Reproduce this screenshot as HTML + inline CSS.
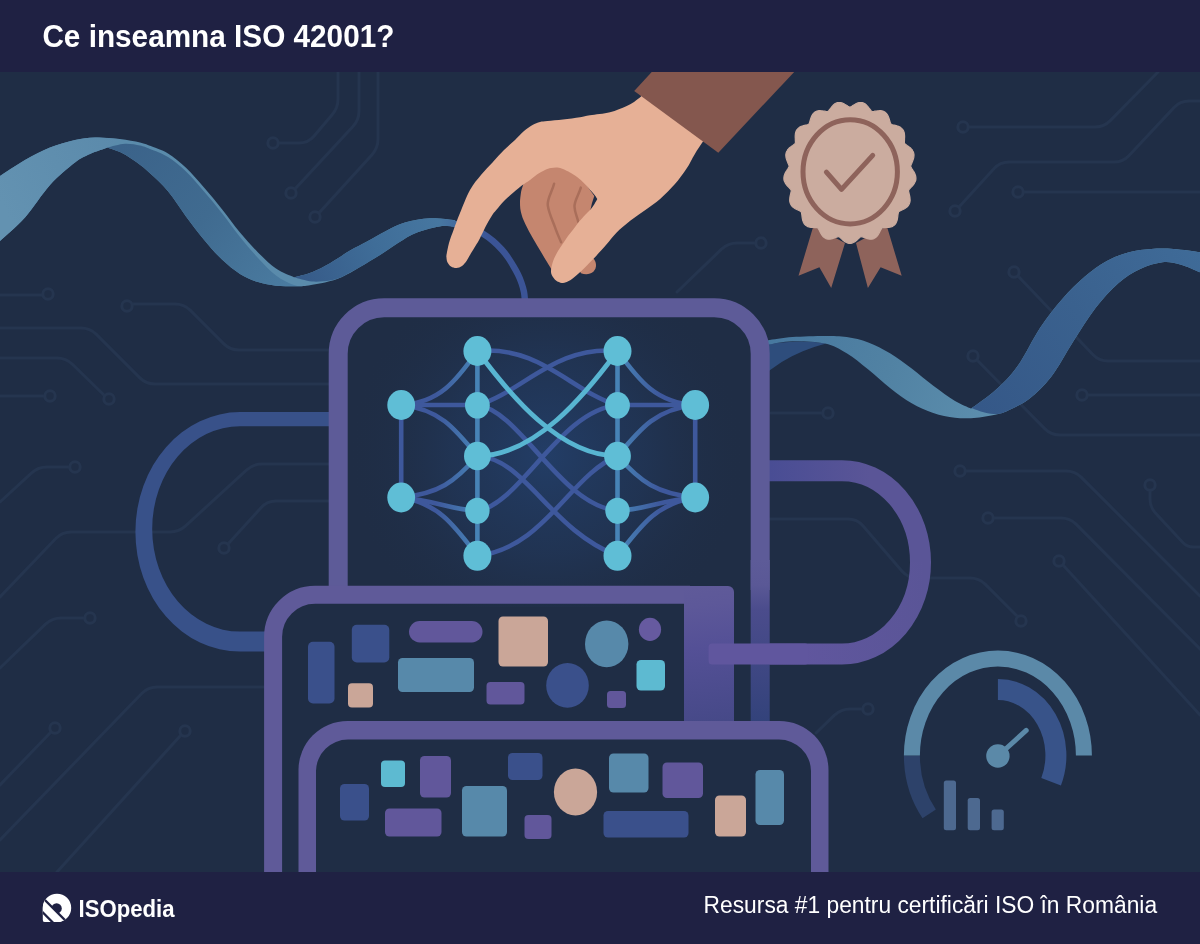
<!DOCTYPE html>
<html lang="ro">
<head>
<meta charset="utf-8">
<title>Ce inseamna ISO 42001?</title>
<style>
  html, body { margin: 0; padding: 0; background: #1f2d45; }
  body { width: 1200px; height: 944px; overflow: hidden; position: relative;
         font-family: "Liberation Sans", sans-serif; }
  svg { position: absolute; left: 0; top: 0; display: block; will-change: transform; }
  .t { font-family: "Liberation Sans", sans-serif; fill: #ffffff; }
</style>
</head>
<body>
<svg width="1200" height="944" viewBox="0 0 1200 944">
<rect x="0" y="0" width="1200" height="944" fill="#1f2d45"/>
<g fill="none" stroke="#25354f" stroke-width="3" stroke-linecap="round" stroke-linejoin="round">
  <path d="M338.0,72.0L338.0,99.0Q338.0,108.0 332.1,114.8L313.9,136.2Q308.0,143.0 299.0,143.0L278.0,143.0"/>
  <path d="M359.0,72.0L359.0,111.0Q359.0,120.0 352.9,126.6L295.0,189.0"/>
  <path d="M378.0,72.0L378.0,139.0Q378.0,148.0 372.0,154.7L319.0,213.0"/>
  <path d="M0.0,295.0L43.0,295.0"/>
  <path d="M133.0,304.0L175.0,304.0Q184.0,304.0 190.4,310.4L223.6,343.6Q230.0,350.0 239.0,350.0L330.0,350.0"/>
  <path d="M0.0,328.0L81.0,328.0Q90.0,328.0 96.4,334.4L139.6,377.6Q146.0,384.0 155.0,384.0L330.0,384.0"/>
  <path d="M0.0,358.0L57.0,358.0Q66.0,358.0 72.4,364.3L105.0,396.0"/>
  <path d="M0.0,396.0L44.0,396.0"/>
  <path d="M69.0,467.0L47.0,467.0Q38.0,467.0 31.4,473.1L0.0,502.0"/>
  <path d="M329.0,464.0L262.0,464.0Q253.0,464.0 246.4,470.1L185.6,525.9Q179.0,532.0 170.0,532.0L71.0,532.0Q62.0,532.0 55.8,538.5L0.0,597.0"/>
  <path d="M329.0,501.0L276.0,501.0Q267.0,501.0 261.0,507.7L228.0,544.0"/>
  <path d="M84.0,618.0L61.0,618.0Q52.0,618.0 45.5,624.2L0.0,668.0"/>
  <path d="M264.0,687.0L157.0,687.0Q148.0,687.0 141.7,693.5L0.0,840.0"/>
  <path d="M51.0,732.0L0.0,785.0"/>
  <path d="M181.0,735.0L57.0,872.0"/>
  <path d="M969.0,127.0L1095.0,127.0Q1104.0,127.0 1110.3,120.6L1158.0,72.0"/>
  <path d="M959.0,207.0L993.9,168.7Q1000.0,162.0 1009.0,162.0L1114.0,162.0Q1123.0,162.0 1129.1,155.4L1173.9,107.6Q1180.0,101.0 1189.0,101.0L1200.0,101.0"/>
  <path d="M1024.0,192.0L1200.0,192.0"/>
  <path d="M1018.0,276.0L1092.8,354.5Q1099.0,361.0 1108.0,361.0L1200.0,361.0"/>
  <path d="M977.0,360.0L1044.7,428.6Q1051.0,435.0 1060.0,435.0L1200.0,435.0"/>
  <path d="M1088.0,395.0L1200.0,395.0"/>
  <path d="M755.0,243.0L737.0,243.0Q728.0,243.0 721.5,249.2L677.0,292.0"/>
  <path d="M771.0,413.0L822.0,413.0"/>
  <path d="M966.0,471.0L1066.0,471.0Q1075.0,471.0 1081.4,477.4L1200.0,596.0"/>
  <path d="M994.0,518.0L1061.0,518.0Q1070.0,518.0 1076.3,524.4L1200.0,649.0"/>
  <path d="M1063.0,565.0L1200.0,715.0"/>
  <path d="M1150.0,491.0L1150.0,499.0Q1150.0,507.0 1155.4,512.9L1182.6,542.2Q1187.0,547.0 1193.5,547.0L1200.0,547.0"/>
  <path d="M770.0,519.0L848.0,519.0Q857.0,519.0 862.9,525.8L902.1,571.2Q908.0,578.0 917.0,578.0L970.0,578.0Q979.0,578.0 985.4,584.4L1017.0,616.0"/>
  <path d="M862.0,709.0L850.0,709.0Q841.0,709.0 834.5,715.2L816.0,733.0"/>
  <g fill="#1f2d45"><circle cx="273" cy="143" r="5.2"/><circle cx="291" cy="193" r="5.2"/><circle cx="315" cy="217" r="5.2"/><circle cx="48" cy="294" r="5.2"/><circle cx="127" cy="306" r="5.2"/><circle cx="109" cy="399" r="5.2"/><circle cx="50" cy="396" r="5.2"/><circle cx="75" cy="467" r="5.2"/><circle cx="224" cy="548" r="5.2"/><circle cx="90" cy="618" r="5.2"/><circle cx="55" cy="728" r="5.2"/><circle cx="185" cy="731" r="5.2"/><circle cx="963" cy="127" r="5.2"/><circle cx="955" cy="211" r="5.2"/><circle cx="1018" cy="192" r="5.2"/><circle cx="1014" cy="272" r="5.2"/><circle cx="973" cy="356" r="5.2"/><circle cx="1082" cy="395" r="5.2"/><circle cx="761" cy="243" r="5.2"/><circle cx="828" cy="413" r="5.2"/><circle cx="960" cy="471" r="5.2"/><circle cx="988" cy="518" r="5.2"/><circle cx="1059" cy="561" r="5.2"/><circle cx="1150" cy="485" r="5.2"/><circle cx="1021" cy="621" r="5.2"/><circle cx="868" cy="709" r="5.2"/></g>
</g>
<defs><linearGradient id="gA" x1="0" y1="200" x2="120" y2="140" gradientUnits="userSpaceOnUse"><stop offset="0" stop-color="#6392b1"/><stop offset="1" stop-color="#5b8aab"/></linearGradient><linearGradient id="gB" x1="120" y1="150" x2="290" y2="285" gradientUnits="userSpaceOnUse"><stop offset="0" stop-color="#3b638a"/><stop offset="0.5" stop-color="#406b90"/><stop offset="1" stop-color="#4a7ba0"/></linearGradient><linearGradient id="gC" x1="300" y1="283" x2="455" y2="222" gradientUnits="userSpaceOnUse"><stop offset="0" stop-color="#365a88"/><stop offset="0.5" stop-color="#3f6d98"/><stop offset="1" stop-color="#4879a2"/></linearGradient><linearGradient id="gD" x1="770" y1="340" x2="1000" y2="415" gradientUnits="userSpaceOnUse"><stop offset="0" stop-color="#47789f"/><stop offset="0.5" stop-color="#5182a3"/><stop offset="1" stop-color="#5d8fae"/></linearGradient><linearGradient id="gE" x1="980" y1="410" x2="1200" y2="250" gradientUnits="userSpaceOnUse"><stop offset="0" stop-color="#355888"/><stop offset="0.5" stop-color="#3a618e"/><stop offset="1" stop-color="#3f6b98"/></linearGradient></defs>
<path d="M0.0,176.0C4.2,173.3 16.7,164.8 25.0,160.0 C33.3,155.2 41.7,150.8 50.0,147.5 C58.3,144.2 67.5,141.7 75.0,140.0 C82.5,138.3 87.5,137.7 95.0,137.5 C102.5,137.3 112.5,138.2 120.0,139.0 C127.5,139.8 135.0,141.4 140.0,142.5 C145.0,143.6 148.3,145.2 150.0,145.8C153.0,147.1 162.0,149.7 168.0,153.4 C174.0,157.1 180.0,162.1 186.0,167.8 C192.0,173.5 198.0,180.7 204.0,187.6 C210.0,194.5 216.0,201.7 222.0,209.2 C228.0,216.7 234.0,225.4 240.0,232.6 C246.0,239.8 252.0,246.4 258.0,252.4 C264.0,258.4 270.0,264.5 276.0,268.6 C282.0,272.8 291.0,275.9 294.0,277.3C297.0,276.4 306.0,274.6 312.0,272.2 C318.0,269.8 323.7,266.8 330.0,263.2 C336.3,259.6 343.8,254.2 350.0,250.6 C356.2,247.0 361.0,244.8 367.0,241.5 C373.0,238.2 379.7,234.2 386.0,231.0 C392.3,227.8 397.7,224.6 405.0,222.5 C412.3,220.4 421.7,218.6 430.0,218.2 C438.3,217.8 450.8,219.7 455.0,220.0L455.0,226.5C452.8,226.4 448.3,225.0 442.0,226.0 C435.7,227.0 424.3,229.7 417.0,232.5 C409.7,235.3 404.2,239.2 398.0,243.0 C391.8,246.8 386.3,251.0 380.0,255.0 C373.7,259.0 366.3,263.3 360.0,267.0 C353.7,270.7 347.8,274.4 342.0,277.0 C336.2,279.6 331.2,281.0 325.0,282.5 C318.8,284.0 308.3,285.4 305.0,286.0C303.2,286.1 298.8,286.4 294.0,286.3 C289.2,286.2 282.0,286.4 276.0,285.7 C270.0,285.0 264.0,284.1 258.0,282.1 C252.0,280.2 246.0,277.8 240.0,274.0 C234.0,270.2 228.0,265.3 222.0,259.6 C216.0,253.9 210.0,247.0 204.0,239.8 C198.0,232.6 192.0,224.5 186.0,216.4 C180.0,208.3 174.0,198.4 168.0,191.2 C162.0,184.0 155.2,178.0 150.0,173.2 C144.8,168.4 141.7,165.9 137.0,162.5 C132.3,159.1 126.9,155.5 122.0,153.0 C117.1,150.5 109.9,148.4 107.5,147.5C104.6,148.6 95.4,151.5 90.0,154.0 C84.6,156.5 81.7,157.3 75.0,162.5 C68.3,167.7 58.3,175.8 50.0,185.0 C41.7,194.2 33.3,208.2 25.0,217.5 C16.7,226.8 4.2,237.1 0.0,241.0Z" fill="#5a8bab"/>
<path d="M0.0,176.0C4.2,173.3 16.7,164.8 25.0,160.0 C33.3,155.2 41.7,150.8 50.0,147.5 C58.3,144.2 67.5,141.7 75.0,140.0 C82.5,138.3 87.5,137.7 95.0,137.5 C102.5,137.3 115.8,138.8 120.0,139.0L107.5,147.5C104.6,148.6 95.4,151.5 90.0,154.0 C84.6,156.5 81.7,157.3 75.0,162.5 C68.3,167.7 58.3,175.8 50.0,185.0 C41.7,194.2 33.3,208.2 25.0,217.5 C16.7,226.8 4.2,237.1 0.0,241.0Z" fill="url(#gA)"/>
<path d="M107.5,147.5C110.4,146.9 119.6,144.1 125.0,143.8 C130.4,143.5 135.8,144.6 140.0,145.5 C144.2,146.4 145.3,147.1 150.0,149.0 C154.7,150.9 162.0,153.2 168.0,157.0 C174.0,160.8 180.0,165.8 186.0,171.5 C192.0,177.2 198.0,184.6 204.0,191.5 C210.0,198.4 216.0,205.6 222.0,213.2 C228.0,220.8 234.0,229.5 240.0,237.0 C246.0,244.5 252.0,251.6 258.0,258.0 C264.0,264.4 270.0,271.0 276.0,275.5 C282.0,280.0 289.2,283.2 294.0,285.0 C298.8,286.8 303.2,285.8 305.0,286.0C303.2,286.1 298.8,286.4 294.0,286.3 C289.2,286.2 282.0,286.4 276.0,285.7 C270.0,285.0 264.0,284.1 258.0,282.1 C252.0,280.2 246.0,277.8 240.0,274.0 C234.0,270.2 228.0,265.3 222.0,259.6 C216.0,253.9 210.0,247.0 204.0,239.8 C198.0,232.6 192.0,224.5 186.0,216.4 C180.0,208.3 174.0,198.4 168.0,191.2 C162.0,184.0 155.2,178.0 150.0,173.2 C144.8,168.4 141.7,165.9 137.0,162.5 C132.3,159.1 126.9,155.5 122.0,153.0 C117.1,150.5 109.9,148.4 107.5,147.5Z" fill="url(#gB)"/>
<path d="M294.0,277.3C297.0,276.4 306.0,274.6 312.0,272.2 C318.0,269.8 323.7,266.8 330.0,263.2 C336.3,259.6 343.8,254.2 350.0,250.6 C356.2,247.0 361.0,244.8 367.0,241.5 C373.0,238.2 379.7,234.2 386.0,231.0 C392.3,227.8 397.7,224.6 405.0,222.5 C412.3,220.4 421.7,218.6 430.0,218.2 C438.3,217.8 450.8,219.7 455.0,220.0L455.0,226.5C452.8,226.4 448.3,225.0 442.0,226.0 C435.7,227.0 424.3,229.7 417.0,232.5 C409.7,235.3 404.2,239.2 398.0,243.0 C391.8,246.8 386.3,251.0 380.0,255.0 C373.7,259.0 366.3,263.3 360.0,267.0 C353.7,270.7 345.0,275.3 342.0,277.0C340.0,277.6 335.0,279.8 330.0,280.5 C325.0,281.2 318.0,282.0 312.0,281.5 C306.0,281.0 297.0,278.0 294.0,277.3Z" fill="url(#gC)"/>
<path d="M768,344 C790,341 810,340.5 826,343.6 C810,348 795,354 781.7,362 L768,371.5 Z" fill="#2e4d7c"/>
<path d="M768.0,340.3C772.1,339.8 783.0,337.8 792.5,337.1 C802.0,336.4 816.0,336.0 825.0,336.0 C834.0,336.0 839.5,336.0 846.7,337.1 C853.9,338.2 861.1,339.8 868.3,342.5 C875.5,345.2 882.8,349.0 890.0,353.3 C897.2,357.6 904.5,363.1 911.7,368.5 C918.9,373.9 926.1,380.4 933.3,385.8 C940.5,391.2 948.7,397.2 955.0,401.0 C961.3,404.8 968.3,407.3 971.0,408.6C975.1,405.5 987.8,397.1 995.6,390.0 C1003.4,382.9 1010.4,376.1 1017.8,365.7 C1025.2,355.3 1032.6,339.0 1040.0,327.9 C1047.4,316.8 1054.9,307.5 1062.3,299.0 C1069.7,290.5 1077.2,283.0 1084.6,276.7 C1092.0,270.4 1099.4,265.1 1106.8,261.0 C1114.2,256.9 1121.6,254.2 1129.0,252.2 C1136.4,250.2 1143.9,249.4 1151.3,248.9 C1158.7,248.4 1165.4,248.4 1173.5,248.9 C1181.6,249.4 1195.6,251.6 1200.0,252.2L1200.0,272.3C1196.7,271.0 1186.5,266.2 1180.2,264.5 C1173.9,262.8 1169.1,261.6 1162.4,262.3 C1155.7,263.1 1147.6,265.5 1140.2,269.0 C1132.8,272.5 1125.4,276.9 1118.0,283.4 C1110.6,289.9 1103.1,298.2 1095.7,307.8 C1088.3,317.4 1080.8,329.7 1073.4,341.2 C1066.0,352.7 1058.6,367.2 1051.2,376.8 C1043.8,386.4 1036.4,393.2 1029.0,399.0 C1021.6,404.8 1010.4,409.2 1006.7,411.3C1005.3,411.8 1003.3,412.9 998.3,414.0 C993.3,415.1 983.9,417.1 976.7,417.7 C969.5,418.3 962.2,418.5 955.0,417.7 C947.8,416.9 940.5,415.3 933.3,412.9 C926.1,410.5 918.9,407.3 911.7,403.2 C904.5,399.1 897.2,393.6 890.0,388.0 C882.8,382.4 875.5,375.4 868.3,369.6 C861.1,363.8 853.9,357.6 846.7,353.3 C839.5,349.0 834.0,345.6 825.0,343.6 C816.0,341.6 802.0,341.1 792.5,341.3 C783.0,341.5 772.1,344.1 768.0,344.7Z" fill="url(#gD)"/>
<path d="M971.0,408.6C975.1,405.5 987.8,397.1 995.6,390.0 C1003.4,382.9 1010.4,376.1 1017.8,365.7 C1025.2,355.3 1032.6,339.0 1040.0,327.9 C1047.4,316.8 1054.9,307.5 1062.3,299.0 C1069.7,290.5 1077.2,283.0 1084.6,276.7 C1092.0,270.4 1099.4,265.1 1106.8,261.0 C1114.2,256.9 1121.6,254.2 1129.0,252.2 C1136.4,250.2 1143.9,249.4 1151.3,248.9 C1158.7,248.4 1165.4,248.4 1173.5,248.9 C1181.6,249.4 1195.6,251.6 1200.0,252.2L1200.0,272.3C1196.7,271.0 1186.5,266.2 1180.2,264.5 C1173.9,262.8 1169.1,261.6 1162.4,262.3 C1155.7,263.1 1147.6,265.5 1140.2,269.0 C1132.8,272.5 1125.4,276.9 1118.0,283.4 C1110.6,289.9 1103.1,298.2 1095.7,307.8 C1088.3,317.4 1080.8,329.7 1073.4,341.2 C1066.0,352.7 1058.6,367.2 1051.2,376.8 C1043.8,386.4 1036.4,393.2 1029.0,399.0 C1021.6,404.8 1010.4,409.2 1006.7,411.3C1005.2,411.8 1001.5,413.8 997.8,414.0 C994.1,414.2 989.0,413.4 984.5,412.4 C980.0,411.4 973.2,408.7 971.0,408.0Z" fill="url(#gE)"/>
<defs><radialGradient id="glow" cx="547" cy="455" r="200" gradientUnits="userSpaceOnUse"><stop offset="0" stop-color="#233f6a" stop-opacity="0.9"/><stop offset="0.5" stop-color="#223a60" stop-opacity="0.5"/><stop offset="1" stop-color="#1f2d45" stop-opacity="0"/></radialGradient><linearGradient id="gLoopR" x1="770" y1="0" x2="870" y2="0" gradientUnits="userSpaceOnUse"><stop offset="0" stop-color="#494d94"/><stop offset="1" stop-color="#5a5597"/></linearGradient><linearGradient id="gVert" x1="0" y1="560" x2="0" y2="725" gradientUnits="userSpaceOnUse"><stop offset="0" stop-color="#5d5b98"/><stop offset="0.15" stop-color="#5a5896"/><stop offset="0.3" stop-color="#4b4c8c"/><stop offset="1" stop-color="#32427a"/></linearGradient><linearGradient id="gBand" x1="700" y1="586" x2="716" y2="722" gradientUnits="userSpaceOnUse"><stop offset="0" stop-color="#5f5a99"/><stop offset="0.14" stop-color="#5d5899"/><stop offset="0.45" stop-color="#545096"/><stop offset="1" stop-color="#464988"/></linearGradient><linearGradient id="gLoopB" x1="925" y1="0" x2="800" y2="0" gradientUnits="userSpaceOnUse"><stop offset="0" stop-color="#5a5597"/><stop offset="1" stop-color="#60569e"/></linearGradient></defs>
<path d="M330,412.1 H240 A104.6,119.75 0 0 0 240,651.6 H268 V631.6 H240 A87.8,102.7 0 0 1 240,426.2 H330 Z" fill="#385189"/>
<defs><linearGradient id="gWire" x1="436" y1="0" x2="490" y2="0" gradientUnits="userSpaceOnUse"><stop offset="0" stop-color="#4879a2"/><stop offset="1" stop-color="#3b5496"/></linearGradient></defs>
<path d="M440.0,222.0C442.5,222.3 450.0,223.1 455.0,224.0 C460.0,224.9 465.3,225.9 470.0,227.5 C474.7,229.1 479.2,231.6 483.0,233.8 C486.8,236.1 489.9,238.4 493.0,241.0 C496.1,243.6 499.2,246.8 501.7,249.5 C504.2,252.2 506.1,254.8 508.0,257.5 C509.9,260.2 511.6,263.2 513.3,266.0 C515.0,268.8 516.6,271.7 518.0,274.5 C519.4,277.3 520.5,280.1 521.5,283.0 C522.5,285.9 523.4,289.0 524.0,292.0 C524.6,295.0 524.8,299.5 525.0,301.0" fill="none" stroke="url(#gWire)" stroke-width="6.4"/>
<path d="M765,470.7 H842 A78.5,91.65 0 0 1 920.5,562.35" fill="none" stroke="url(#gLoopR)" stroke-width="21"/>
<path d="M920.5,561.5 A78.5,91.65 0 0 1 842,654 H760" fill="none" stroke="url(#gLoopB)" stroke-width="21"/>
<rect x="347" y="317" width="404" height="290" fill="url(#glow)"/>
<path d="M338.2,590 V353.8 A46,46 0 0 1 384.2,307.8 H714.2 A46,46 0 0 1 760.2,353.8 V590" fill="none" stroke="#5d5b98" stroke-width="19"/>
<rect x="750.7" y="560" width="19" height="166" fill="url(#gVert)"/>
<path d="M273.1,872 V636.8 A42,42 0 0 1 315.1,594.8 H690" fill="none" stroke="#5f5a99" stroke-width="18"/>
<path d="M684,586 H728 A6,6 0 0 1 734,592 V722 H684 Z" fill="url(#gBand)"/>
<rect x="708.6" y="643.5" width="100" height="21" rx="3.5" fill="#60569e"/>
<path d="M298.5,872 V770 A49,49 0 0 1 347.5,721 H779.5 A49,49 0 0 1 828.5,770 V872 Z" fill="#5f5a99"/>
<path d="M316,872 V771 A32,32 0 0 1 348,739.5 H779 A32,32 0 0 1 811,771 V872 Z" fill="#1f2d45"/>
<rect x="308.0" y="641.8" width="26.5" height="61.7" rx="5.0" fill="#3a508b"/>
<rect x="351.8" y="624.8" width="37.5" height="37.7" rx="5.0" fill="#3a508b"/>
<rect x="409.0" y="621.0" width="73.5" height="21.5" rx="10.7" fill="#61579b"/>
<rect x="498.5" y="616.5" width="49.5" height="50.0" rx="4.5" fill="#caa698"/>
<ellipse cx="606.7" cy="643.9" rx="21.7" ry="23.4" fill="#5789aa"/>
<ellipse cx="650.0" cy="629.4" rx="11.1" ry="11.6" fill="#665aa0"/>
<rect x="398.0" y="658.0" width="76.0" height="34.0" rx="4.5" fill="#5789aa"/>
<rect x="348.0" y="683.2" width="25.0" height="24.4" rx="4.0" fill="#caa698"/>
<rect x="486.5" y="682.0" width="38.0" height="22.5" rx="4.0" fill="#61579b"/>
<ellipse cx="567.5" cy="685.4" rx="21.3" ry="22.4" fill="#3a508b"/>
<rect x="607.0" y="691.0" width="19.0" height="17.0" rx="3.5" fill="#61579b"/>
<rect x="636.5" y="660.0" width="28.5" height="30.5" rx="4.5" fill="#5dbad1"/>
<rect x="381.0" y="760.5" width="24.0" height="26.5" rx="4.0" fill="#5dbad1"/>
<rect x="420.0" y="756.0" width="31.0" height="41.5" rx="4.5" fill="#61579b"/>
<rect x="340.0" y="784.0" width="29.0" height="36.5" rx="4.5" fill="#3a508b"/>
<rect x="385.0" y="808.5" width="56.5" height="28.0" rx="4.5" fill="#61579b"/>
<rect x="462.0" y="786.0" width="45.0" height="50.5" rx="4.5" fill="#5789aa"/>
<rect x="508.0" y="753.0" width="34.5" height="27.0" rx="4.5" fill="#3a508b"/>
<rect x="524.5" y="815.0" width="27.0" height="24.0" rx="4.0" fill="#61579b"/>
<ellipse cx="575.5" cy="792.0" rx="21.6" ry="23.5" fill="#caa698"/>
<rect x="609.0" y="753.5" width="39.5" height="39.0" rx="4.5" fill="#5789aa"/>
<rect x="662.5" y="762.5" width="40.5" height="35.5" rx="4.5" fill="#61579b"/>
<rect x="603.5" y="811.0" width="85.0" height="26.5" rx="4.5" fill="#3a508b"/>
<rect x="715.0" y="795.5" width="31.0" height="41.0" rx="4.5" fill="#caa698"/>
<rect x="755.5" y="770.0" width="28.5" height="55.0" rx="4.5" fill="#5789aa"/>
<defs><linearGradient id="gFanL" x1="401.2" y1="0" x2="477.4" y2="0" gradientUnits="userSpaceOnUse"><stop offset="0" stop-color="#3e589c"/><stop offset="0.45" stop-color="#3e589c"/><stop offset="1" stop-color="#4783b6"/></linearGradient><linearGradient id="gFanR" x1="695.2" y1="0" x2="617.5" y2="0" gradientUnits="userSpaceOnUse"><stop offset="0" stop-color="#3e589c"/><stop offset="0.45" stop-color="#3e589c"/><stop offset="1" stop-color="#4783b6"/></linearGradient></defs>
<path d="M401.2,405.0 V497.5" fill="none" stroke="#3e589c" stroke-width="4.6" stroke-linecap="round"/>
<path d="M695.2,405.0 V497.5" fill="none" stroke="#3e589c" stroke-width="4.6" stroke-linecap="round"/>
<path d="M401.2,405.0 C439.3,403.0 456.1,381.0 477.4,351.0" fill="none" stroke="url(#gFanL)" stroke-width="4.6" stroke-linecap="round"/>
<path d="M401.2,405.0 H477.4" fill="none" stroke="#3e589c" stroke-width="4.6" stroke-linecap="round"/>
<path d="M401.2,405.0 C439.3,409.0 454.5,428.0 477.4,456.0" fill="none" stroke="url(#gFanL)" stroke-width="4.6" stroke-linecap="round"/>
<path d="M401.2,497.5 C439.3,493.5 454.5,482.0 477.4,456.0" fill="none" stroke="url(#gFanL)" stroke-width="4.6" stroke-linecap="round"/>
<path d="M401.2,497.5 C435.5,500.5 446.9,508.8 477.4,510.8" fill="none" stroke="url(#gFanL)" stroke-width="4.6" stroke-linecap="round"/>
<path d="M401.2,497.5 C439.3,503.5 454.5,525.8 477.4,555.8" fill="none" stroke="url(#gFanL)" stroke-width="4.6" stroke-linecap="round"/>
<path d="M695.2,405.0 C656.4,403.0 639.3,381.0 617.5,351.0" fill="none" stroke="url(#gFanR)" stroke-width="4.6" stroke-linecap="round"/>
<path d="M695.2,405.0 H617.5" fill="none" stroke="#3e589c" stroke-width="4.6" stroke-linecap="round"/>
<path d="M695.2,405.0 C656.4,409.0 640.8,428.0 617.5,456.0" fill="none" stroke="url(#gFanR)" stroke-width="4.6" stroke-linecap="round"/>
<path d="M695.2,497.5 C656.4,493.5 640.8,482.0 617.5,456.0" fill="none" stroke="url(#gFanR)" stroke-width="4.6" stroke-linecap="round"/>
<path d="M695.2,497.5 C660.2,500.5 648.6,508.8 617.5,510.8" fill="none" stroke="url(#gFanR)" stroke-width="4.6" stroke-linecap="round"/>
<path d="M695.2,497.5 C656.4,503.5 640.8,525.8 617.5,555.8" fill="none" stroke="url(#gFanR)" stroke-width="4.6" stroke-linecap="round"/>
<path d="M477.4,351.0 C540,345 572,392 617.5,405.3" fill="none" stroke="#3e589c" stroke-width="4.6" stroke-linecap="round"/>
<path d="M617.5,351.0 C555,345 523,392 477.4,405.3" fill="none" stroke="#3e589c" stroke-width="4.6" stroke-linecap="round"/>
<path d="M477.4,405.3 C520,410 560,505 617.5,510.8" fill="none" stroke="#3e589c" stroke-width="4.6" stroke-linecap="round"/>
<path d="M477.4,510.8 C520,505 560,410 617.5,405.3" fill="none" stroke="#3e589c" stroke-width="4.6" stroke-linecap="round"/>
<path d="M477.4,456.0 C525,458 550,530 617.5,555.8" fill="none" stroke="#3e589c" stroke-width="4.6" stroke-linecap="round"/>
<path d="M477.4,555.8 C545,548 570,475 617.5,456.0" fill="none" stroke="#3e589c" stroke-width="4.6" stroke-linecap="round"/>
<path d="M477.4,351.0 V555.8" fill="none" stroke="#4783b6" stroke-width="4.6" stroke-linecap="round"/>
<path d="M617.5,351.0 V555.8" fill="none" stroke="#4783b6" stroke-width="4.6" stroke-linecap="round"/>
<path d="M477.4,351.0 C510,395 560,456 617.5,456.0" fill="none" stroke="#58b5d1" stroke-width="4.8" stroke-linecap="round"/>
<path d="M477.4,456.0 C535,456 585,395 617.5,351.0" fill="none" stroke="#58b5d1" stroke-width="4.8" stroke-linecap="round"/>
<ellipse cx="401.2" cy="405.0" rx="13.9" ry="14.9" fill="#5fbed6"/>
<ellipse cx="401.2" cy="497.5" rx="13.9" ry="14.9" fill="#5fbed6"/>
<ellipse cx="695.2" cy="405.0" rx="13.9" ry="14.9" fill="#5fbed6"/>
<ellipse cx="695.2" cy="497.5" rx="13.9" ry="14.9" fill="#5fbed6"/>
<ellipse cx="477.4" cy="351.0" rx="14.0" ry="15.0" fill="#5fbed6"/>
<ellipse cx="477.4" cy="405.3" rx="12.4" ry="13.3" fill="#5fbed6"/>
<ellipse cx="477.4" cy="456.0" rx="13.4" ry="14.3" fill="#5fbed6"/>
<ellipse cx="477.4" cy="510.8" rx="12.2" ry="13.1" fill="#5fbed6"/>
<ellipse cx="477.4" cy="555.8" rx="14.0" ry="15.0" fill="#5fbed6"/>
<ellipse cx="617.5" cy="351.0" rx="14.0" ry="15.0" fill="#5fbed6"/>
<ellipse cx="617.5" cy="405.3" rx="12.4" ry="13.3" fill="#5fbed6"/>
<ellipse cx="617.5" cy="456.0" rx="13.4" ry="14.3" fill="#5fbed6"/>
<ellipse cx="617.5" cy="510.8" rx="12.2" ry="13.1" fill="#5fbed6"/>
<ellipse cx="617.5" cy="555.8" rx="14.0" ry="15.0" fill="#5fbed6"/>
<path d="M523.4,183.9C523.1,184.9 522.0,188.1 521.5,190.0 C521.0,191.9 520.9,193.3 520.6,195.3 C520.4,197.3 520.0,199.8 520.0,202.0 C520.0,204.2 520.0,206.4 520.3,208.7 C520.6,211.0 521.2,213.4 522.0,216.0 C522.8,218.6 523.9,221.0 525.3,224.0 C526.7,227.0 528.6,230.5 530.5,234.0 C532.4,237.5 534.8,241.6 536.8,245.0 C538.8,248.4 540.6,251.3 542.5,254.5 C544.4,257.7 546.6,261.4 548.2,264.0 C549.8,266.6 550.7,268.3 552.0,270.0 C553.3,271.7 555.3,273.3 556.0,274.0L585,262 L590.5,209.5 L592,203 L594.3,196 L585,183 L570,168 L557,164 L545,166 L531,176 Z" fill="#c5866f"/>
<path d="M578,268 L592.5,257.5 C597,261.5 597,268 593.5,271.5 C590,274.8 585,274.8 581,273.2 Z" fill="#c5866f"/>
<path d="M554.1,183.8 C552,192 547,198.5 547.8,205.4 C548.8,213.5 553,221 555.4,228.3 C557.2,233.5 559.3,238 561.1,242.3" fill="none" stroke="#a96e5a" stroke-width="2.5" stroke-linecap="round"/>
<path d="M580.8,187.6 C579,194.5 574.3,200.5 574.5,206.7 C574.7,212.5 577.3,217 578.3,222" fill="none" stroke="#a96e5a" stroke-width="2.5" stroke-linecap="round"/>
<path d="M446.3,256.0C446.8,253.8 447.8,247.5 449.0,243.0 C450.2,238.5 452.0,234.2 453.8,229.2 C455.6,224.2 457.3,219.5 460.0,213.0 C462.7,206.5 466.5,196.3 470.0,190.0 C473.5,183.7 477.2,179.6 481.0,175.0 C484.8,170.4 488.7,166.7 492.5,162.5 C496.3,158.3 500.2,153.8 504.0,150.0 C507.8,146.2 511.7,143.2 515.0,140.0 C518.3,136.8 521.1,133.5 524.0,131.0 C526.9,128.5 529.8,126.5 532.5,125.0 C535.2,123.5 537.5,122.7 540.0,122.0 C542.5,121.3 543.7,121.4 547.5,121.0 C551.3,120.6 557.6,120.1 563.0,119.5 C568.4,118.9 575.5,117.9 580.0,117.2 C584.5,116.5 585.0,116.0 590.0,115.2 C595.0,114.4 604.0,113.7 610.0,112.2 C616.0,110.7 622.2,107.9 626.2,106.2 C630.2,104.5 631.6,103.6 634.0,102.0 C636.4,100.4 639.7,97.7 640.8,96.8L648.0,86.0L712.0,133.0L702.8,141.8C701.4,143.9 697.3,150.0 694.6,154.4 C691.9,158.8 690.0,163.5 686.6,168.5 C683.2,173.5 678.9,179.6 674.5,184.6 C670.1,189.6 665.4,194.3 660.4,198.7 C655.4,203.1 649.3,207.1 644.3,210.8 C639.3,214.5 634.9,217.1 630.2,220.8 C625.5,224.5 620.2,228.9 616.2,232.9 C612.2,236.9 610.0,240.5 606.2,244.8 C602.4,249.1 597.7,254.4 593.5,258.8 C589.3,263.2 584.4,268.1 580.8,271.5 C577.2,274.9 574.5,277.2 572.0,279.0 C569.5,280.8 567.7,281.6 566.0,282.3 C564.3,283.0 563.5,283.3 561.8,283.0 C560.1,282.7 557.6,281.8 556.0,280.5 C554.4,279.2 552.8,277.1 552.0,275.5 C551.2,273.9 551.0,272.8 551.0,271.0 C551.0,269.2 551.5,267.0 552.0,265.0 C552.5,263.0 553.0,261.1 554.0,258.8 C555.0,256.5 556.5,253.6 558.0,251.0 C559.5,248.4 561.3,246.0 563.0,243.5 C564.7,241.0 566.3,238.3 568.0,236.0 C569.7,233.7 571.5,231.8 573.2,229.6 C574.9,227.4 576.3,225.1 578.0,223.0 C579.7,220.9 581.9,218.5 583.4,216.8 C584.9,215.1 585.7,214.3 587.0,213.0 C588.3,211.7 589.8,210.5 591.0,209.0 C592.2,207.5 593.5,205.7 594.5,204.0 C595.5,202.3 596.8,199.8 597.3,199.0C596.9,198.4 596.3,197.1 594.8,195.2 C593.2,193.3 590.3,190.0 588.0,187.5 C585.7,185.0 583.0,182.0 580.8,180.0 C578.6,178.0 576.8,176.8 575.0,175.5 C573.2,174.2 572.0,173.6 570.0,172.5 C568.0,171.4 565.1,169.8 563.0,169.0 C560.9,168.2 559.5,167.7 557.5,167.5 C555.5,167.3 553.1,167.6 551.0,168.0 C548.9,168.4 547.3,168.9 545.0,170.0 C542.7,171.1 539.5,172.8 537.0,174.5 C534.5,176.2 532.4,178.2 530.0,180.0 C527.6,181.8 523.8,184.2 522.5,185.0C521.1,186.2 516.9,189.5 514.0,192.0 C511.1,194.5 507.7,197.3 505.0,200.0 C502.3,202.7 500.1,205.5 498.0,208.0 C495.9,210.5 494.1,212.3 492.3,215.0 C490.5,217.7 488.6,221.2 487.0,224.0 C485.4,226.8 484.4,229.2 483.0,232.0 C481.6,234.8 479.9,238.5 478.5,241.0 C477.1,243.5 476.2,244.7 474.8,247.0 C473.4,249.3 471.4,252.7 470.0,255.0 C468.6,257.3 468.0,258.9 466.7,260.7 C465.4,262.5 463.7,264.8 462.0,266.0 C460.3,267.2 458.3,267.9 456.5,268.0 C454.7,268.1 452.5,267.5 451.0,266.5 C449.5,265.5 448.1,263.8 447.3,262.0 C446.5,260.2 446.5,257.0 446.3,256.0Z" fill="#e6b096"/>
<path d="M651.7,72 L634.2,91 L718.3,152.7 L794.2,72 Z" fill="#84574e"/>
<path d="M813.4,226 L798.5,275.8 L819.4,267.3 L831.2,288 L845,243 Z" fill="#8e635b"/>
<path d="M886.8,226 L901.7,275.8 L880.6,267.3 L867.9,288 L856,243 Z" fill="#8e635b"/>
<path d="M849.9,107.1L850.8,106.7 L851.8,106.2 L852.8,105.6 L853.8,105.0 L854.8,104.4 L855.8,103.8 L856.9,103.3 L857.9,102.9 L859.0,102.7 L860.0,102.5 L861.1,102.5 L862.1,102.6 L863.1,102.9 L864.0,103.3 L865.0,103.8 L865.8,104.5 L866.7,105.3 L867.5,106.2 L868.3,107.1 L869.0,108.0 L869.7,109.0 L870.5,109.9 L871.2,110.8 L871.9,111.5 L872.9,111.5 L874.0,111.4 L875.1,111.2 L876.3,111.0 L877.4,110.9 L878.6,110.8 L879.7,110.7 L880.8,110.7 L881.9,110.9 L882.9,111.1 L883.9,111.5 L884.8,112.0 L885.6,112.7 L886.4,113.4 L887.1,114.3 L887.7,115.3 L888.2,116.3 L888.7,117.4 L889.1,118.6 L889.4,119.8 L889.8,121.0 L890.1,122.1 L890.5,123.2 L891.0,124.1 L891.9,124.6 L893.0,124.9 L894.1,125.1 L895.2,125.4 L896.3,125.7 L897.4,126.0 L898.5,126.4 L899.5,126.9 L900.5,127.4 L901.4,128.1 L902.1,128.8 L902.8,129.6 L903.4,130.5 L903.8,131.5 L904.2,132.6 L904.4,133.7 L904.5,134.9 L904.6,136.1 L904.6,137.4 L904.5,138.6 L904.5,139.9 L904.4,141.1 L904.4,142.2 L904.5,143.3 L905.2,144.0 L906.1,144.7 L907.0,145.4 L908.0,146.1 L908.9,146.8 L909.9,147.5 L910.8,148.3 L911.5,149.1 L912.3,150.0 L912.8,151.0 L913.3,151.9 L913.7,153.0 L913.9,154.0 L914.0,155.1 L913.9,156.3 L913.8,157.4 L913.5,158.6 L913.1,159.7 L912.7,160.9 L912.2,162.0 L911.8,163.2 L911.3,164.3 L910.9,165.3 L910.6,166.4 L911.1,167.3 L911.6,168.3 L912.3,169.3 L912.9,170.3 L913.6,171.3 L914.2,172.4 L914.8,173.5 L915.2,174.6 L915.6,175.7 L915.8,176.8 L915.9,177.9 L915.9,179.0 L915.8,180.0 L915.5,181.1 L915.0,182.1 L914.5,183.1 L913.8,184.1 L913.1,185.1 L912.3,186.0 L911.5,186.8 L910.7,187.7 L909.9,188.6 L909.1,189.4 L908.6,190.3 L908.6,191.3 L908.8,192.5 L909.1,193.6 L909.4,194.8 L909.7,196.1 L909.9,197.3 L910.0,198.5 L910.1,199.7 L910.1,200.8 L909.9,202.0 L909.6,203.0 L909.2,204.0 L908.7,205.0 L908.1,205.9 L907.4,206.7 L906.5,207.4 L905.6,208.1 L904.6,208.7 L903.5,209.2 L902.5,209.7 L901.4,210.2 L900.4,210.7 L899.4,211.2 L898.6,211.8 L898.3,212.8 L898.1,213.9 L897.9,215.1 L897.8,216.3 L897.6,217.6 L897.4,218.8 L897.2,220.0 L896.8,221.1 L896.4,222.2 L895.9,223.2 L895.3,224.1 L894.6,224.9 L893.8,225.6 L892.9,226.1 L891.9,226.6 L890.9,226.9 L889.8,227.2 L888.7,227.4 L887.5,227.5 L886.3,227.5 L885.2,227.6 L884.1,227.6 L883.0,227.7 L882.0,227.9 L881.4,228.8 L880.8,229.7 L880.3,230.8 L879.7,231.9 L879.2,233.0 L878.6,234.0 L877.9,235.1 L877.2,236.0 L876.5,236.8 L875.6,237.5 L874.8,238.1 L873.9,238.6 L872.9,238.9 L871.9,239.1 L870.8,239.2 L869.7,239.1 L868.6,238.9 L867.5,238.6 L866.4,238.3 L865.3,237.9 L864.2,237.5 L863.1,237.1 L862.1,236.8 L861.1,236.6 L860.2,237.1 L859.4,237.8 L858.5,238.6 L857.7,239.4 L856.8,240.2 L855.8,241.0 L854.9,241.7 L853.9,242.3 L852.9,242.7 L851.9,243.1 L850.9,243.3 L849.9,243.4 L848.9,243.3 L847.9,243.1 L846.9,242.7 L845.9,242.3 L844.9,241.7 L844.0,241.0 L843.0,240.2 L842.1,239.4 L841.3,238.6 L840.4,237.8 L839.6,237.1 L838.7,236.6 L837.7,236.8 L836.7,237.1 L835.6,237.5 L834.5,237.9 L833.4,238.3 L832.3,238.6 L831.2,238.9 L830.1,239.1 L829.0,239.2 L827.9,239.1 L826.9,238.9 L825.9,238.6 L825.0,238.1 L824.2,237.5 L823.3,236.8 L822.6,236.0 L821.9,235.1 L821.2,234.0 L820.6,233.0 L820.1,231.9 L819.5,230.8 L819.0,229.7 L818.4,228.8 L817.8,227.9 L816.8,227.7 L815.7,227.6 L814.6,227.6 L813.5,227.5 L812.3,227.5 L811.1,227.4 L810.0,227.2 L808.9,226.9 L807.9,226.6 L806.9,226.1 L806.0,225.6 L805.2,224.9 L804.5,224.1 L803.9,223.2 L803.4,222.2 L803.0,221.1 L802.6,220.0 L802.4,218.8 L802.2,217.6 L802.0,216.3 L801.9,215.1 L801.7,213.9 L801.5,212.8 L801.2,211.8 L800.4,211.2 L799.4,210.7 L798.4,210.2 L797.3,209.7 L796.3,209.2 L795.2,208.7 L794.2,208.1 L793.3,207.4 L792.4,206.7 L791.7,205.9 L791.1,205.0 L790.6,204.0 L790.2,203.0 L789.9,202.0 L789.7,200.8 L789.7,199.7 L789.8,198.5 L789.9,197.3 L790.1,196.1 L790.4,194.8 L790.7,193.6 L791.0,192.5 L791.2,191.3 L791.2,190.3 L790.7,189.4 L789.9,188.6 L789.1,187.7 L788.3,186.8 L787.5,186.0 L786.7,185.1 L786.0,184.1 L785.3,183.1 L784.8,182.1 L784.3,181.1 L784.0,180.0 L783.9,179.0 L783.9,177.9 L784.0,176.8 L784.2,175.7 L784.6,174.6 L785.0,173.5 L785.6,172.4 L786.2,171.3 L786.9,170.3 L787.5,169.3 L788.2,168.3 L788.7,167.3 L789.2,166.4 L788.9,165.3 L788.5,164.3 L788.0,163.2 L787.6,162.0 L787.1,160.9 L786.7,159.7 L786.3,158.6 L786.0,157.4 L785.9,156.3 L785.8,155.1 L785.9,154.0 L786.1,153.0 L786.5,151.9 L787.0,151.0 L787.5,150.0 L788.3,149.1 L789.0,148.3 L789.9,147.5 L790.9,146.8 L791.8,146.1 L792.8,145.4 L793.7,144.7 L794.6,144.0 L795.3,143.3 L795.4,142.2 L795.4,141.1 L795.3,139.9 L795.3,138.6 L795.2,137.4 L795.2,136.1 L795.3,134.9 L795.4,133.7 L795.6,132.6 L796.0,131.5 L796.4,130.5 L797.0,129.6 L797.7,128.8 L798.4,128.1 L799.3,127.4 L800.3,126.9 L801.3,126.4 L802.4,126.0 L803.5,125.7 L804.6,125.4 L805.7,125.1 L806.8,124.9 L807.9,124.6 L808.8,124.1 L809.3,123.2 L809.7,122.1 L810.0,121.0 L810.4,119.8 L810.7,118.6 L811.1,117.4 L811.6,116.3 L812.1,115.3 L812.7,114.3 L813.4,113.4 L814.2,112.7 L815.0,112.0 L815.9,111.5 L816.9,111.1 L817.9,110.9 L819.0,110.7 L820.1,110.7 L821.2,110.8 L822.4,110.9 L823.5,111.0 L824.7,111.2 L825.8,111.4 L826.9,111.5 L827.9,111.5 L828.6,110.8 L829.3,109.9 L830.1,109.0 L830.8,108.0 L831.5,107.1 L832.3,106.2 L833.1,105.3 L834.0,104.5 L834.8,103.8 L835.8,103.3 L836.7,102.9 L837.7,102.6 L838.7,102.5 L839.8,102.5 L840.8,102.7 L841.9,102.9 L842.9,103.3 L844.0,103.8 L845.0,104.4 L846.0,105.0 L847.0,105.6 L848.0,106.2 L849.0,106.7Z" fill="#cbac9f" stroke="#cbac9f" stroke-width="1.2" stroke-linejoin="round"/>
<ellipse cx="850.2" cy="171.8" rx="47.2" ry="52.1" fill="none" stroke="#8e635b" stroke-width="5"/>
<path d="M826.4,172.1 L841.5,189.4 L872.7,155.4" fill="none" stroke="#8e635b" stroke-width="5" stroke-linecap="round" stroke-linejoin="round"/>
<path d="M911.9,755.5 A86,97 0 0 0 929.2,813.9" fill="none" stroke="#2d426a" stroke-width="16"/>
<path d="M911.9,755.5 A86,97 0 0 1 1083.9,755.5" fill="none" stroke="#5b89a8" stroke-width="16"/>
<path d="M997.9,689.5 A58,66 0 0 1 1051.1,781.8" fill="none" stroke="#385389" stroke-width="21"/>
<path d="M997.9,756.0 L1026.2,730.4" fill="none" stroke="#5b89a8" stroke-width="5" stroke-linecap="round"/>
<circle cx="997.9" cy="756.0" r="11.7" fill="#5b89a8"/>
<rect x="943.8" y="780.6" width="12.2" height="49.7" rx="2.5" fill="#4d6990"/>
<rect x="967.7" y="798" width="12.3" height="32.3" rx="2.5" fill="#4d6990"/>
<rect x="991.6" y="809.6" width="12.2" height="20.7" rx="2.5" fill="#4d6990"/>
<rect x="0" y="0" width="1200" height="72" fill="#1f2143"/>
<rect x="0" y="872" width="1200" height="72" fill="#1f2143"/>
<text class="t" x="42.4" y="46.7" font-size="31" font-weight="700" textLength="352" lengthAdjust="spacingAndGlyphs">Ce inseamna ISO 42001?</text>
<defs><clipPath id="logoclip"><path d="M14.2,0 A14.2,14.2 0 0 1 14.2,28.4 H2.2 A2.2,2.2 0 0 1 0,26.2 V14.2 A14.2,14.2 0 0 1 14.2,0 Z"/></clipPath></defs>
<g transform="translate(42.8,893.7)">
<path d="M14.2,0 A14.2,14.2 0 0 1 14.2,28.4 H2.2 A2.2,2.2 0 0 1 0,26.2 V14.2 A14.2,14.2 0 0 1 14.2,0 Z" fill="#ffffff"/>
<circle cx="13.8" cy="14.7" r="5.2" fill="#1f2143"/>
<g clip-path="url(#logoclip)">
<path d="M-6,-1.8 L34,38.2 L34,52.8 L-6,12.8 Z" fill="#ffffff"/>
<path d="M-6,-1.8 L34,38.2" stroke="#1f2143" stroke-width="2.3" fill="none"/>
<path d="M-6,12.8 L34,52.8" stroke="#1f2143" stroke-width="2.3" fill="none"/>
</g>
</g>
<text class="t" x="78.6" y="917.3" font-size="24" font-weight="700" textLength="96" lengthAdjust="spacingAndGlyphs">ISOpedia</text>
<text class="t" x="703.6" y="913.2" font-size="23.3" textLength="453.5" lengthAdjust="spacingAndGlyphs">Resursa #1 pentru certificări ISO în România</text>
</svg>
</body>
</html>
